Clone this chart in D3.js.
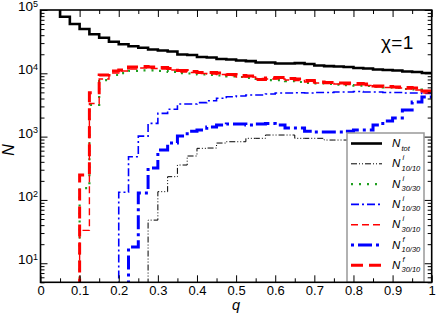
<!DOCTYPE html>
<html>
<head>
<meta charset="utf-8">
<script src="https://cdn.jsdelivr.net/npm/d3@7"></script>
<style>
  body { margin: 0; background: #fff; }
  svg { display: block; font-family: "Liberation Sans", Arial, sans-serif; }
</style>
</head>
<body>
<svg width="436" height="314"></svg>
<script>
// bin width of all histograms
const qStep = 0.025

// N_tot, bins from q = 0.025
const totStart = 0.025
const totVals = [110000, 78300, 60100, 50100, 41300, 36500, 31500, 28700, 26700, 25400,
  23800, 22900, 22100, 19800, 19500, 18100, 17800, 16800, 16500, 15900,
  15600, 14800, 14800, 14300, 14300, 14500, 14000, 13300, 13000, 12800,
  12600, 12100, 11900, 11500, 11300, 11100, 10700, 10500, 10100]

// N^i_10/10, bins from q = 0.275 (rest hidden by legend)
const i1010Start = 0.275
const i1010Vals = [48, 135, 233, 356, 494, 653, 660, 792, 830, 830,
  940, 940, 1060, 1060, 1060, 940, 940, 940, 883, 883, 883, 860]

// N^i_30/30, bins from q = 0.1
const i3030Start = 0.1
const i3030Vals = [154, 3160, 7830, 9400, 10100, 10900, 11100, 11100, 10900, 10500,
  10100, 9930, 9570, 9400, 9230, 8900, 8740, 8430, 8130, 7830,
  7830, 7550, 7290, 7030, 6900, 6780, 6650, 6530, 6410, 6300,
  6180, 5970, 5860, 5650, 5550, 5250]

// N^i_10/30, bins from q = 0.2
const i1030Start = 0.2
const i1030Vals = [132, 481, 1020, 1620, 2330, 2700, 3270, 3270, 3440, 3690,
  4030, 4270, 4380, 4540, 4540, 4710, 4890, 4890, 4940, 4890,
  4980, 4980, 5070, 5070, 5150, 5070, 5070, 4980, 4980, 4890,
  4890, 4800]

// N^i_30/10, bins from q = 0.1
const i3010Start = 0.1
const i3010Vals = [33, 3330, 8130, 10100, 10900, 11700, 12100, 11900, 11700, 11300,
  10500, 10300, 9930, 9750, 9570, 9230, 8740, 8740, 8280, 8130,
  8130, 7830, 7690, 7290, 7030, 6900, 6780, 6650, 6530, 6410,
  6080, 5970, 5860, 5650, 5450, 4890]

// N^f_10/30, bins from q = 0.225
const f1030Start = 0.225
const f1030Vals = [18, 129, 319, 614, 792, 1020, 1220, 1270, 1420, 1520,
  1580, 1580, 1520, 1580, 1610, 1520, 1370, 1370, 1220, 1180,
  1180, 1180, 1220, 1270, 1270, 1520, 1760, 1970, 2630, 3520, 4220]

// N^f_30/10, bins from q = 0.1
const f3010Start = 0.1
const f3010Vals = [247, 4940, 9400, 10900, 11300, 12600, 12800, 12600, 12400, 11900,
  11100, 10700, 10300, 10300, 10100, 9570, 9230, 9060, 7980, 8430,
  8590, 8280, 8130, 7690, 7290, 7160, 7030, 7030, 6900, 6780,
  6300, 6180, 6080, 5970, 5860, 5250]

const xTicks = [0, 0.1, 0.2, 0.3, 0.4, 0.5, 0.6, 0.7, 0.8, 0.9, 1]
const xTickLabels = ["0", "0.1", "0.2", "0.3", "0.4", "0.5", "0.6", "0.7", "0.8", "0.9", "1"]
const yTicks = [10, 100, 1000, 10000, 100000]
const yTickExps = ["1", "2", "3", "4", "5"]

const legendSup = ["", "i", "i", "i", "i", "f", "f"]
const legendSub = ["tot", "10/10", "30/30", "10/30", "30/10", "10/30", "30/10"]

const series = [
  { start: totStart, vals: totVals, rise: false, color: "#000", width: 2.6, dash: null },
  { start: i1010Start, vals: i1010Vals, rise: true, color: "#000", width: 1, dash: "6,2,1,2,1,2" },
  { start: i3030Start, vals: i3030Vals, rise: true, color: "#1f9f1f", width: 2.2, dash: "2,6" },
  { start: i1030Start, vals: i1030Vals, rise: true, color: "#0000ff", width: 1.6, dash: "8,3,2,3" },
  { start: i3010Start, vals: i3010Vals, rise: true, color: "#ff0000", width: 1.4, dash: "7,4" },
  { start: f1030Start, vals: f1030Vals, rise: true, color: "#0000ff", width: 3, dash: "3,4,14,4" },
  { start: f3010Start, vals: f3010Vals, rise: true, color: "#ff0000", width: 3, dash: "12,6" }
]

const pLeft = 40.5, pRight = 431.7, pTop = 10, pBottom = 282.3

const svg = d3.select("svg")

const x = d3.scaleLinear().domain([0, 1]).range([pLeft, pRight])
const y = d3.scaleLog().domain([5, 100000]).range([pBottom, pTop])

svg.append("clipPath").attr("id", "plot")
  .append("rect")
  .attr("x", pLeft).attr("y", pTop)
  .attr("width", pRight - pLeft).attr("height", pBottom - pTop)

// step lines
const line = d3.line()
  .curve(d3.curveStepAfter)
  .x(d => x(d[0]))
  .y(d => y(d[1]))

const toPoints = function (s) {
  const pts = []
  if (s.rise) pts.push([s.start, 1])
  s.vals.forEach((v, i) => pts.push([s.start + i * qStep, v]))
  pts.push([s.start + s.vals.length * qStep, s.vals[s.vals.length - 1]])
  return pts
}

const lines = svg.append("g").attr("clip-path", "url(#plot)")

lines.selectAll("path")
  .data(series)
  .enter()
  .append("path")
  .attr("d", d => line(toPoints(d)))
  .attr("fill", "none")
  .attr("stroke", d => d.color)
  .attr("stroke-width", d => d.width)
  .attr("stroke-dasharray", d => d.dash)

// legend
const legX = 347, legW = 77, legTop = 133
const legend = svg.append("g")

legend.append("rect")
  .attr("x", legX).attr("y", legTop)
  .attr("width", legW).attr("height", pBottom - legTop)
  .attr("fill", "#fff")
  .attr("stroke", "#999")
  .attr("stroke-width", 1.5)

const rows = legend.selectAll("g.row")
  .data(series)
  .enter()
  .append("g")
  .attr("class", "row")
  .attr("transform", (d, i) => `translate(0, ${143.5 + i * 20.3})`)

rows.append("line")
  .attr("x1", 351).attr("x2", 382)
  .attr("stroke", d => d.color)
  .attr("stroke-width", d => d.width)
  .attr("stroke-dasharray", d => d.dash)

rows.append("text")
  .attr("x", 392).attr("y", 3.5)
  .attr("font-size", 11.5)
  .attr("font-style", "italic")
  .text("N")

rows.append("text")
  .attr("x", 401.5).attr("y", 7)
  .attr("font-size", 7.5)
  .attr("font-style", "italic")
  .text((d, i) => legendSub[i])

rows.append("text")
  .attr("x", 402.5).attr("y", -3.5)
  .attr("font-size", 7.5)
  .attr("font-style", "italic")
  .text((d, i) => legendSup[i])

// axes, ticks pointing inward
const xMinor = d3.range(0.05, 1, 0.1)
const yMinor = []
;[1, 10, 100, 1000, 10000].forEach(p => {
  for (let k = 2; k <= 9; k++) {
    if (k * p >= 5 && k * p < 100000) yMinor.push(k * p)
  }
})

const axes = svg.append("g")

axes.append("g")
  .attr("transform", `translate(0, ${pBottom})`)
  .call(d3.axisBottom(x).tickValues(xTicks).tickSize(-7).tickPadding(3.5)
    .tickFormat((d, i) => xTickLabels[i]))
axes.append("g")
  .attr("transform", `translate(0, ${pBottom})`)
  .call(d3.axisBottom(x).tickValues(xMinor).tickSize(-4).tickFormat(""))
axes.append("g")
  .attr("transform", `translate(0, ${pTop})`)
  .call(d3.axisTop(x).tickValues(xTicks).tickSize(-7).tickFormat(""))
axes.append("g")
  .attr("transform", `translate(0, ${pTop})`)
  .call(d3.axisTop(x).tickValues(xMinor).tickSize(-4).tickFormat(""))

axes.append("g")
  .attr("class", "yleft")
  .attr("transform", `translate(${pLeft}, 0)`)
  .call(d3.axisLeft(y).tickValues(yTicks).tickSize(-7).tickPadding(3))
axes.append("g")
  .attr("transform", `translate(${pLeft}, 0)`)
  .call(d3.axisLeft(y).tickValues(yMinor).tickSize(-4).tickFormat(""))
axes.append("g")
  .attr("transform", `translate(${pRight}, 0)`)
  .call(d3.axisRight(y).tickValues(yTicks).tickSize(-7).tickFormat(""))
axes.append("g")
  .attr("transform", `translate(${pRight}, 0)`)
  .call(d3.axisRight(y).tickValues(yMinor).tickSize(-4).tickFormat(""))

axes.selectAll(".domain").remove()
axes.selectAll(".tick line").attr("stroke", "#000").attr("stroke-width", 1)
axes.selectAll("g").attr("font-family", "Liberation Sans, Arial, sans-serif")
axes.selectAll(".tick text")
  .attr("fill", "#000")
  .attr("font-size", 13)

// y labels as 10 with a raised exponent
axes.select(".yleft").selectAll(".tick text")
  .attr("x", -2.5)
  .attr("dy", "0.4em")
  .attr("font-size", 13.5)
  .each(function (d, i) {
    const t = d3.select(this).text(null)
    t.append("tspan").text("10").attr("dy", "0.05em")
    t.append("tspan").text(yTickExps[i]).attr("font-size", 9).attr("dy", "-0.5em")
  })

// frame
svg.append("rect")
  .attr("x", pLeft).attr("y", pTop)
  .attr("width", pRight - pLeft).attr("height", pBottom - pTop)
  .attr("fill", "none")
  .attr("stroke", "#000")
  .attr("stroke-width", 1.6)

// titles
svg.append("text")
  .attr("x", (pLeft + pRight) / 2).attr("y", 309.5)
  .attr("text-anchor", "middle")
  .attr("font-size", 14.5)
  .attr("font-style", "italic")
  .text("q")

svg.append("text")
  .attr("transform", "translate(13.5, 150) rotate(-90)")
  .attr("text-anchor", "middle")
  .attr("font-size", 16)
  .attr("font-style", "italic")
  .text("N")

svg.append("text")
  .attr("x", 381).attr("y", 48.5)
  .attr("font-size", 19)
  .attr("letter-spacing", 0.3)
  .text("χ=1")
</script>
</body>
</html>
